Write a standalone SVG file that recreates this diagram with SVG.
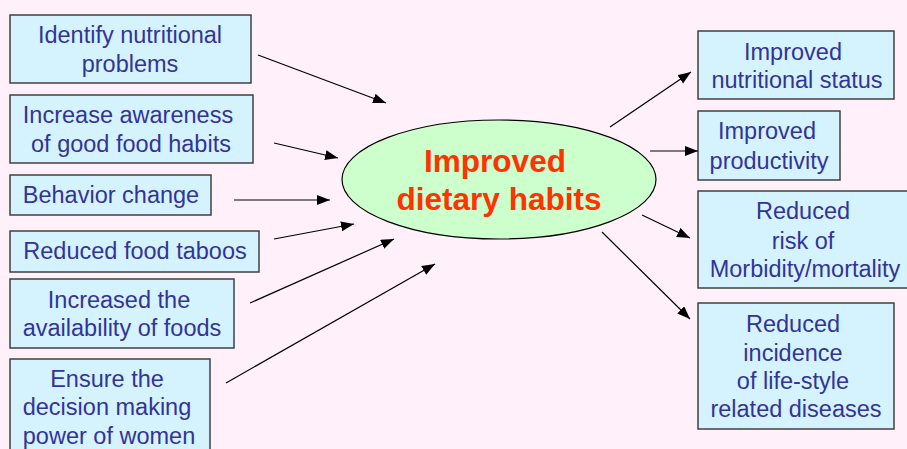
<svg xmlns="http://www.w3.org/2000/svg" width="907" height="449" viewBox="0 0 907 449">
<style>
.box{fill:#D5F3FF;stroke:#404040;stroke-width:1.5}
.t{font-family:"Liberation Sans",Arial,sans-serif;font-size:23.5px;fill:#333399;text-anchor:middle}
.h{font-family:"Liberation Sans",Arial,sans-serif;font-size:31.5px;font-weight:bold;fill:#FF3300;text-anchor:middle}
.c{stroke:#000;stroke-width:1.2;fill:none;marker-end:url(#ah)}
</style>
<defs>
<marker id="ah" markerUnits="userSpaceOnUse" markerWidth="14" markerHeight="12" refX="13" refY="5" orient="auto">
<path d="M0,0 L13,5 L0,10 Z" fill="#000"/>
</marker>
</defs>
<rect width="907" height="449" fill="#FFF0FA"/>
<g id="center">
<ellipse cx="499" cy="179.5" rx="157" ry="59.5" fill="#CCFFCC" stroke="#000" stroke-width="1.2"/>
<text class="h" x="495" y="172">Improved</text>
<text class="h" x="499" y="210">dietary habits</text>
</g>
<g id="n1"><rect class="box" x="10" y="15" width="241" height="68"/>
<text class="t" x="130" y="43">Identify nutritional</text><text class="t" x="130" y="72">problems</text></g>
<g id="n2"><rect class="box" x="10" y="95" width="243" height="68"/>
<text class="t" x="128" y="123">Increase awareness</text><text class="t" x="131" y="152">of good food habits</text></g>
<g id="n3"><rect class="box" x="10" y="175" width="201" height="40"/>
<text class="t" x="111" y="203">Behavior change</text></g>
<g id="n4"><rect class="box" x="10" y="231" width="249" height="41"/>
<text class="t" x="135" y="259">Reduced food taboos</text></g>
<g id="n5"><rect class="box" x="10" y="279" width="224" height="69"/>
<text class="t" x="119" y="308">Increased the</text><text class="t" x="122" y="336">availability of foods</text></g>
<g id="n6"><rect class="box" x="10" y="359" width="200" height="100"/>
<text class="t" x="107" y="387">Ensure the</text><text class="t" x="107" y="415">decision making</text><text class="t" x="109" y="444">power of women</text></g>
<g id="r1"><rect class="box" x="698" y="31" width="196" height="68"/>
<text class="t" x="793" y="60">Improved</text><text class="t" x="797" y="88">nutritional status</text></g>
<g id="r2"><rect class="box" x="698" y="111" width="142" height="69"/>
<text class="t" x="767" y="139">Improved</text><text class="t" x="769" y="169">productivity</text></g>
<g id="r3"><rect class="box" x="698" y="191" width="215" height="97"/>
<text class="t" x="803" y="219">Reduced</text><text class="t" x="803" y="249">risk of</text><text class="t" x="805" y="277">Morbidity/mortality</text></g>
<g id="r4"><rect class="box" x="698" y="303" width="196" height="126"/>
<text class="t" x="793" y="332">Reduced</text><text class="t" x="793" y="361">incidence</text><text class="t" x="793" y="389">of life-style</text><text class="t" x="796" y="417">related diseases</text></g>
<g id="connectors">
<line class="c" x1="258" y1="55" x2="386" y2="103"/>
<line class="c" x1="274" y1="143" x2="338" y2="158"/>
<line class="c" x1="234" y1="200" x2="330" y2="200"/>
<line class="c" x1="274" y1="239" x2="354" y2="224"/>
<line class="c" x1="250" y1="303" x2="394" y2="239"/>
<line class="c" x1="226" y1="383" x2="435" y2="264"/>
<line class="c" x1="610" y1="127" x2="691" y2="72"/>
<line class="c" x1="650" y1="151" x2="698" y2="151"/>
<line class="c" x1="642" y1="215" x2="690" y2="238"/>
<line class="c" x1="602" y1="232" x2="690" y2="319"/>
</g>
</svg>
